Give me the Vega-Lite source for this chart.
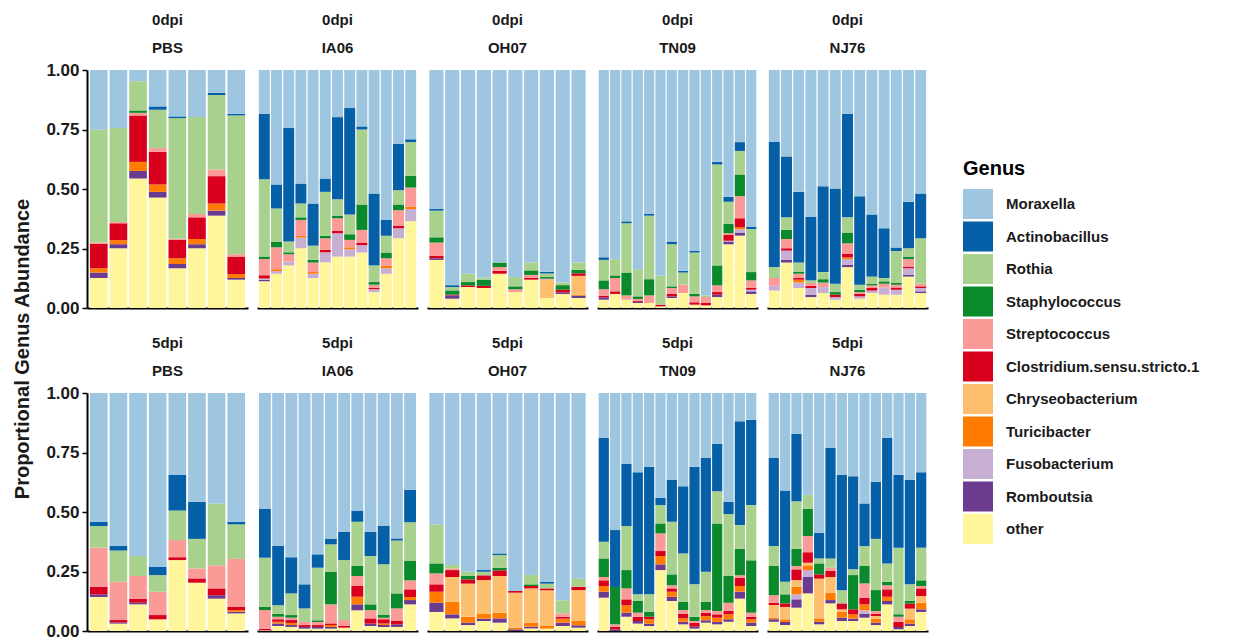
{
"$schema": "https://vega.github.io/schema/vega-lite/v6.json",
"background": "white",
"padding": {"left": 12, "top": 13, "right": 5, "bottom": 5},
"title": {"text": "Proportional Genus Abundance", "orient": "left", "anchor": "middle", "fontSize": 20, "fontWeight": "bold", "font": "Liberation Sans", "color": "#1a1a1a", "offset": 13, "dx": -23},
"data": {"values": [
{"panel":"0dpi|PBS","sample":1,"other":0.126,"Romboutsia":0.023,"Turicibacter":0.018,"Clostridium.sensu.stricto.1":0.102,"Streptococcus":0.006,"Rothia":0.474,"Moraxella":0.251},
{"panel":"0dpi|PBS","sample":2,"other":0.251,"Romboutsia":0.017,"Turicibacter":0.017,"Clostridium.sensu.stricto.1":0.071,"Streptococcus":0.005,"Rothia":0.395,"Moraxella":0.244},
{"panel":"0dpi|PBS","sample":3,"other":0.544,"Romboutsia":0.032,"Turicibacter":0.038,"Clostridium.sensu.stricto.1":0.195,"Streptococcus":0.011,"Staphylococcus":0.010,"Rothia":0.123,"Moraxella":0.047},
{"panel":"0dpi|PBS","sample":4,"other":0.464,"Romboutsia":0.024,"Turicibacter":0.031,"Clostridium.sensu.stricto.1":0.137,"Streptococcus":0.016,"Rothia":0.161,"Actinobacillus":0.014,"Moraxella":0.153},
{"panel":"0dpi|PBS","sample":5,"other":0.167,"Romboutsia":0.018,"Turicibacter":0.024,"Clostridium.sensu.stricto.1":0.077,"Streptococcus":0.005,"Rothia":0.507,"Actinobacillus":0.007,"Moraxella":0.195},
{"panel":"0dpi|PBS","sample":6,"other":0.251,"Romboutsia":0.017,"Turicibacter":0.022,"Clostridium.sensu.stricto.1":0.091,"Streptococcus":0.014,"Rothia":0.407,"Moraxella":0.198},
{"panel":"0dpi|PBS","sample":7,"other":0.388,"Romboutsia":0.021,"Turicibacter":0.030,"Clostridium.sensu.stricto.1":0.115,"Streptococcus":0.028,"Rothia":0.313,"Actinobacillus":0.009,"Moraxella":0.096},
{"panel":"0dpi|PBS","sample":8,"other":0.119,"Romboutsia":0.007,"Turicibacter":0.016,"Clostridium.sensu.stricto.1":0.074,"Streptococcus":0.010,"Rothia":0.583,"Actinobacillus":0.007,"Moraxella":0.184},

{"panel":"0dpi|IA06","sample":1,"other":0.112,"Romboutsia":0.007,"Fusobacterium":0.005,"Clostridium.sensu.stricto.1":0.014,"Streptococcus":0.068,"Staphylococcus":0.010,"Rothia":0.325,"Actinobacillus":0.275,"Moraxella":0.184},
{"panel":"0dpi|IA06","sample":2,"other":0.144,"Fusobacterium":0.011,"Turicibacter":0.008,"Streptococcus":0.092,"Staphylococcus":0.024,"Rothia":0.139,"Actinobacillus":0.101,"Moraxella":0.481},
{"panel":"0dpi|IA06","sample":3,"other":0.179,"Fusobacterium":0.016,"Streptococcus":0.031,"Staphylococcus":0.008,"Rothia":0.045,"Actinobacillus":0.477,"Moraxella":0.244},
{"panel":"0dpi|IA06","sample":4,"other":0.251,"Fusobacterium":0.045,"Turicibacter":0.007,"Streptococcus":0.067,"Staphylococcus":0.011,"Rothia":0.058,"Actinobacillus":0.084,"Moraxella":0.477},
{"panel":"0dpi|IA06","sample":5,"other":0.126,"Fusobacterium":0.018,"Turicibacter":0.007,"Streptococcus":0.040,"Staphylococcus":0.011,"Rothia":0.060,"Actinobacillus":0.177,"Moraxella":0.561},
{"panel":"0dpi|IA06","sample":6,"other":0.192,"Fusobacterium":0.042,"Clostridium.sensu.stricto.1":0.010,"Streptococcus":0.049,"Staphylococcus":0.011,"Rothia":0.184,"Actinobacillus":0.056,"Moraxella":0.456},
{"panel":"0dpi|IA06","sample":7,"other":0.216,"Fusobacterium":0.098,"Clostridium.sensu.stricto.1":0.010,"Streptococcus":0.053,"Staphylococcus":0.011,"Rothia":0.069,"Actinobacillus":0.345,"Moraxella":0.198},
{"panel":"0dpi|IA06","sample":8,"other":0.216,"Fusobacterium":0.031,"Turicibacter":0.008,"Streptococcus":0.031,"Staphylococcus":0.024,"Rothia":0.083,"Actinobacillus":0.447,"Moraxella":0.160},
{"panel":"0dpi|IA06","sample":9,"other":0.233,"Fusobacterium":0.031,"Clostridium.sensu.stricto.1":0.011,"Streptococcus":0.053,"Staphylococcus":0.107,"Rothia":0.315,"Actinobacillus":0.013,"Moraxella":0.237},
{"panel":"0dpi|IA06","sample":10,"other":0.067,"Fusobacterium":0.012,"Clostridium.sensu.stricto.1":0.005,"Streptococcus":0.014,"Staphylococcus":0.011,"Rothia":0.070,"Actinobacillus":0.302,"Moraxella":0.519},
{"panel":"0dpi|IA06","sample":11,"other":0.144,"Fusobacterium":0.023,"Turicibacter":0.010,"Streptococcus":0.032,"Staphylococcus":0.024,"Rothia":0.071,"Actinobacillus":0.066,"Moraxella":0.630},
{"panel":"0dpi|IA06","sample":12,"other":0.293,"Fusobacterium":0.042,"Clostridium.sensu.stricto.1":0.011,"Streptococcus":0.065,"Staphylococcus":0.024,"Rothia":0.060,"Actinobacillus":0.195,"Moraxella":0.310},
{"panel":"0dpi|IA06","sample":13,"other":0.365,"Fusobacterium":0.051,"Turicibacter":0.009,"Streptococcus":0.081,"Staphylococcus":0.049,"Rothia":0.142,"Actinobacillus":0.012,"Moraxella":0.291},

{"panel":"0dpi|OH07","sample":1,"other":0.202,"Romboutsia":0.007,"Clostridium.sensu.stricto.1":0.011,"Streptococcus":0.055,"Staphylococcus":0.022,"Rothia":0.112,"Actinobacillus":0.008,"Moraxella":0.583},
{"panel":"0dpi|OH07","sample":2,"other":0.039,"Romboutsia":0.014,"Clostridium.sensu.stricto.1":0.003,"Staphylococcus":0.018,"Rothia":0.014,"Actinobacillus":0.008,"Moraxella":0.904},
{"panel":"0dpi|OH07","sample":3,"other":0.088,"Clostridium.sensu.stricto.1":0.007,"Staphylococcus":0.014,"Rothia":0.035,"Moraxella":0.856},
{"panel":"0dpi|OH07","sample":4,"other":0.084,"Clostridium.sensu.stricto.1":0.009,"Staphylococcus":0.026,"Rothia":0.009,"Moraxella":0.872},
{"panel":"0dpi|OH07","sample":5,"other":0.144,"Clostridium.sensu.stricto.1":0.012,"Streptococcus":0.016,"Staphylococcus":0.019,"Moraxella":0.809},
{"panel":"0dpi|OH07","sample":6,"other":0.067,"Streptococcus":0.012,"Staphylococcus":0.012,"Rothia":0.039,"Moraxella":0.870},
{"panel":"0dpi|OH07","sample":7,"other":0.119,"Clostridium.sensu.stricto.1":0.007,"Streptococcus":0.013,"Staphylococcus":0.019,"Rothia":0.033,"Moraxella":0.809},
{"panel":"0dpi|OH07","sample":8,"other":0.042,"Chryseobacterium":0.077,"Streptococcus":0.004,"Staphylococcus":0.007,"Rothia":0.015,"Actinobacillus":0.007,"Moraxella":0.848},
{"panel":"0dpi|OH07","sample":9,"other":0.059,"Romboutsia":0.007,"Clostridium.sensu.stricto.1":0.011,"Staphylococcus":0.019,"Rothia":0.011,"Moraxella":0.893},
{"panel":"0dpi|OH07","sample":10,"other":0.042,"Romboutsia":0.010,"Turicibacter":0.004,"Chryseobacterium":0.079,"Clostridium.sensu.stricto.1":0.011,"Staphylococcus":0.014,"Rothia":0.031,"Moraxella":0.809},

{"panel":"0dpi|TN09","sample":1,"other":0.035,"Romboutsia":0.010,"Clostridium.sensu.stricto.1":0.007,"Streptococcus":0.027,"Staphylococcus":0.037,"Rothia":0.086,"Actinobacillus":0.011,"Moraxella":0.787},
{"panel":"0dpi|TN09","sample":2,"other":0.059,"Clostridium.sensu.stricto.1":0.011,"Streptococcus":0.056,"Staphylococcus":0.011,"Rothia":0.068,"Moraxella":0.795},
{"panel":"0dpi|TN09","sample":3,"other":0.035,"Streptococcus":0.018,"Staphylococcus":0.096,"Rothia":0.207,"Actinobacillus":0.008,"Moraxella":0.636},
{"panel":"0dpi|TN09","sample":4,"other":0.021,"Romboutsia":0.005,"Clostridium.sensu.stricto.1":0.005,"Streptococcus":0.007,"Staphylococcus":0.011,"Rothia":0.114,"Moraxella":0.837},
{"panel":"0dpi|TN09","sample":5,"other":0.021,"Streptococcus":0.032,"Staphylococcus":0.068,"Rothia":0.267,"Actinobacillus":0.007,"Moraxella":0.605},
{"panel":"0dpi|TN09","sample":6,"other":0.007,"Clostridium.sensu.stricto.1":0.007,"Rothia":0.121,"Moraxella":0.865},
{"panel":"0dpi|TN09","sample":7,"other":0.042,"Romboutsia":0.007,"Clostridium.sensu.stricto.1":0.010,"Streptococcus":0.025,"Staphylococcus":0.007,"Rothia":0.177,"Actinobacillus":0.011,"Moraxella":0.721},
{"panel":"0dpi|TN09","sample":8,"other":0.063,"Streptococcus":0.035,"Rothia":0.051,"Actinobacillus":0.007,"Moraxella":0.844},
{"panel":"0dpi|TN09","sample":9,"other":0.014,"Clostridium.sensu.stricto.1":0.010,"Streptococcus":0.025,"Staphylococcus":0.011,"Rothia":0.173,"Actinobacillus":0.007,"Moraxella":0.760},
{"panel":"0dpi|TN09","sample":10,"other":0.011,"Clostridium.sensu.stricto.1":0.010,"Streptococcus":0.025,"Rothia":0.006,"Moraxella":0.948},
{"panel":"0dpi|TN09","sample":11,"other":0.046,"Romboutsia":0.010,"Clostridium.sensu.stricto.1":0.011,"Streptococcus":0.028,"Staphylococcus":0.084,"Rothia":0.424,"Actinobacillus":0.011,"Moraxella":0.386},
{"panel":"0dpi|TN09","sample":12,"other":0.268,"Romboutsia":0.011,"Fusobacterium":0.004,"Clostridium.sensu.stricto.1":0.024,"Streptococcus":0.007,"Staphylococcus":0.039,"Rothia":0.093,"Actinobacillus":0.021,"Moraxella":0.533},
{"panel":"0dpi|TN09","sample":13,"other":0.304,"Romboutsia":0.013,"Fusobacterium":0.014,"Turicibacter":0.008,"Clostridium.sensu.stricto.1":0.038,"Streptococcus":0.093,"Staphylococcus":0.091,"Rothia":0.099,"Actinobacillus":0.037,"Moraxella":0.303},
{"panel":"0dpi|TN09","sample":14,"other":0.059,"Romboutsia":0.011,"Fusobacterium":0.007,"Clostridium.sensu.stricto.1":0.007,"Streptococcus":0.032,"Staphylococcus":0.035,"Rothia":0.181,"Actinobacillus":0.010,"Moraxella":0.658},

{"panel":"0dpi|NJ76","sample":1,"other":0.074,"Fusobacterium":0.019,"Streptococcus":0.033,"Rothia":0.046,"Actinobacillus":0.525,"Moraxella":0.303},
{"panel":"0dpi|NJ76","sample":2,"other":0.191,"Romboutsia":0.011,"Fusobacterium":0.039,"Clostridium.sensu.stricto.1":0.010,"Streptococcus":0.039,"Staphylococcus":0.038,"Rothia":0.053,"Actinobacillus":0.256,"Moraxella":0.363},
{"panel":"0dpi|NJ76","sample":3,"other":0.084,"Fusobacterium":0.023,"Turicibacter":0.012,"Clostridium.sensu.stricto.1":0.007,"Streptococcus":0.018,"Staphylococcus":0.009,"Rothia":0.038,"Actinobacillus":0.297,"Moraxella":0.512},
{"panel":"0dpi|NJ76","sample":4,"other":0.046,"Romboutsia":0.010,"Fusobacterium":0.028,"Clostridium.sensu.stricto.1":0.009,"Streptococcus":0.012,"Rothia":0.011,"Actinobacillus":0.268,"Moraxella":0.616},
{"panel":"0dpi|NJ76","sample":5,"other":0.063,"Fusobacterium":0.025,"Streptococcus":0.019,"Staphylococcus":0.014,"Rothia":0.030,"Actinobacillus":0.361,"Moraxella":0.488},
{"panel":"0dpi|NJ76","sample":6,"other":0.035,"Fusobacterium":0.011,"Clostridium.sensu.stricto.1":0.010,"Staphylococcus":0.011,"Rothia":0.035,"Actinobacillus":0.400,"Moraxella":0.498},
{"panel":"0dpi|NJ76","sample":7,"other":0.172,"Romboutsia":0.009,"Fusobacterium":0.025,"Turicibacter":0.007,"Clostridium.sensu.stricto.1":0.014,"Streptococcus":0.045,"Staphylococcus":0.045,"Rothia":0.064,"Actinobacillus":0.435,"Moraxella":0.184},
{"panel":"0dpi|NJ76","sample":8,"other":0.039,"Fusobacterium":0.010,"Clostridium.sensu.stricto.1":0.011,"Streptococcus":0.007,"Staphylococcus":0.010,"Rothia":0.021,"Actinobacillus":0.372,"Moraxella":0.530},
{"panel":"0dpi|NJ76","sample":9,"other":0.063,"Fusobacterium":0.010,"Clostridium.sensu.stricto.1":0.011,"Streptococcus":0.011,"Staphylococcus":0.007,"Rothia":0.030,"Actinobacillus":0.261,"Moraxella":0.607},
{"panel":"0dpi|NJ76","sample":10,"other":0.056,"Fusobacterium":0.030,"Streptococcus":0.016,"Staphylococcus":0.010,"Rothia":0.014,"Actinobacillus":0.209,"Moraxella":0.665},
{"panel":"0dpi|NJ76","sample":11,"other":0.056,"Fusobacterium":0.021,"Clostridium.sensu.stricto.1":0.009,"Streptococcus":0.012,"Staphylococcus":0.007,"Rothia":0.135,"Actinobacillus":0.014,"Moraxella":0.746},
{"panel":"0dpi|NJ76","sample":12,"other":0.132,"Romboutsia":0.007,"Fusobacterium":0.028,"Clostridium.sensu.stricto.1":0.007,"Streptococcus":0.032,"Staphylococcus":0.010,"Rothia":0.035,"Actinobacillus":0.195,"Moraxella":0.554},
{"panel":"0dpi|NJ76","sample":13,"other":0.063,"Romboutsia":0.007,"Fusobacterium":0.014,"Clostridium.sensu.stricto.1":0.007,"Streptococcus":0.011,"Rothia":0.191,"Actinobacillus":0.188,"Moraxella":0.519},

{"panel":"5dpi|PBS","sample":1,"other":0.143,"Romboutsia":0.011,"Clostridium.sensu.stricto.1":0.031,"Streptococcus":0.165,"Rothia":0.091,"Actinobacillus":0.018,"Moraxella":0.541},
{"panel":"5dpi|PBS","sample":2,"other":0.031,"Romboutsia":0.005,"Clostridium.sensu.stricto.1":0.010,"Streptococcus":0.161,"Rothia":0.131,"Actinobacillus":0.019,"Moraxella":0.643},
{"panel":"5dpi|PBS","sample":3,"other":0.112,"Romboutsia":0.007,"Clostridium.sensu.stricto.1":0.017,"Streptococcus":0.095,"Rothia":0.084,"Moraxella":0.685},
{"panel":"5dpi|PBS","sample":4,"other":0.049,"Clostridium.sensu.stricto.1":0.018,"Streptococcus":0.098,"Rothia":0.070,"Actinobacillus":0.034,"Moraxella":0.731},
{"panel":"5dpi|PBS","sample":5,"other":0.298,"Clostridium.sensu.stricto.1":0.012,"Streptococcus":0.072,"Rothia":0.124,"Actinobacillus":0.151,"Moraxella":0.343},
{"panel":"5dpi|PBS","sample":6,"other":0.203,"Clostridium.sensu.stricto.1":0.018,"Streptococcus":0.042,"Rothia":0.124,"Actinobacillus":0.156,"Moraxella":0.457},
{"panel":"5dpi|PBS","sample":7,"other":0.136,"Romboutsia":0.014,"Clostridium.sensu.stricto.1":0.029,"Streptococcus":0.097,"Rothia":0.260,"Moraxella":0.464},
{"panel":"5dpi|PBS","sample":8,"other":0.074,"Romboutsia":0.007,"Turicibacter":0.007,"Clostridium.sensu.stricto.1":0.013,"Streptococcus":0.202,"Rothia":0.145,"Actinobacillus":0.011,"Moraxella":0.541},

{"panel":"5dpi|IA06","sample":1,"other":0.003,"Clostridium.sensu.stricto.1":0.007,"Streptococcus":0.078,"Staphylococcus":0.013,"Rothia":0.207,"Actinobacillus":0.205,"Moraxella":0.487},
{"panel":"5dpi|IA06","sample":2,"other":0.021,"Romboutsia":0.010,"Turicibacter":0.008,"Clostridium.sensu.stricto.1":0.010,"Streptococcus":0.011,"Staphylococcus":0.013,"Rothia":0.035,"Actinobacillus":0.249,"Moraxella":0.643},
{"panel":"5dpi|IA06","sample":3,"other":0.017,"Romboutsia":0.008,"Turicibacter":0.009,"Clostridium.sensu.stricto.1":0.012,"Streptococcus":0.010,"Staphylococcus":0.011,"Rothia":0.091,"Actinobacillus":0.152,"Moraxella":0.690},
{"panel":"5dpi|IA06","sample":4,"other":0.010,"Romboutsia":0.007,"Clostridium.sensu.stricto.1":0.008,"Streptococcus":0.013,"Rothia":0.057,"Actinobacillus":0.101,"Moraxella":0.804},
{"panel":"5dpi|IA06","sample":5,"other":0.010,"Romboutsia":0.007,"Clostridium.sensu.stricto.1":0.008,"Streptococcus":0.013,"Staphylococcus":0.007,"Rothia":0.221,"Actinobacillus":0.056,"Moraxella":0.678},
{"panel":"5dpi|IA06","sample":6,"other":0.010,"Romboutsia":0.007,"Turicibacter":0.008,"Clostridium.sensu.stricto.1":0.007,"Streptococcus":0.080,"Staphylococcus":0.137,"Rothia":0.115,"Actinobacillus":0.023,"Moraxella":0.613},
{"panel":"5dpi|IA06","sample":7,"other":0.014,"Clostridium.sensu.stricto.1":0.007,"Streptococcus":0.025,"Rothia":0.252,"Actinobacillus":0.119,"Moraxella":0.583},
{"panel":"5dpi|IA06","sample":8,"other":0.087,"Romboutsia":0.025,"Turicibacter":0.032,"Clostridium.sensu.stricto.1":0.045,"Streptococcus":0.042,"Staphylococcus":0.042,"Rothia":0.186,"Actinobacillus":0.047,"Moraxella":0.494},
{"panel":"5dpi|IA06","sample":9,"other":0.021,"Romboutsia":0.010,"Clostridium.sensu.stricto.1":0.022,"Streptococcus":0.035,"Staphylococcus":0.024,"Rothia":0.203,"Actinobacillus":0.102,"Moraxella":0.583},
{"panel":"5dpi|IA06","sample":10,"other":0.017,"Romboutsia":0.008,"Turicibacter":0.007,"Clostridium.sensu.stricto.1":0.017,"Streptococcus":0.007,"Staphylococcus":0.011,"Rothia":0.213,"Actinobacillus":0.161,"Moraxella":0.559},
{"panel":"5dpi|IA06","sample":11,"other":0.017,"Romboutsia":0.011,"Clostridium.sensu.stricto.1":0.014,"Streptococcus":0.053,"Staphylococcus":0.063,"Rothia":0.222,"Actinobacillus":0.009,"Moraxella":0.611},
{"panel":"5dpi|IA06","sample":12,"other":0.112,"Romboutsia":0.018,"Turicibacter":0.013,"Clostridium.sensu.stricto.1":0.032,"Streptococcus":0.038,"Staphylococcus":0.081,"Rothia":0.163,"Actinobacillus":0.137,"Moraxella":0.406},

{"panel":"5dpi|OH07","sample":1,"other":0.080,"Romboutsia":0.039,"Turicibacter":0.046,"Clostridium.sensu.stricto.1":0.031,"Streptococcus":0.046,"Staphylococcus":0.042,"Rothia":0.164,"Moraxella":0.552},
{"panel":"5dpi|OH07","sample":2,"other":0.053,"Romboutsia":0.017,"Turicibacter":0.053,"Chryseobacterium":0.104,"Clostridium.sensu.stricto.1":0.029,"Streptococcus":0.007,"Rothia":0.014,"Moraxella":0.723},
{"panel":"5dpi|OH07","sample":3,"other":0.025,"Romboutsia":0.010,"Turicibacter":0.025,"Chryseobacterium":0.139,"Clostridium.sensu.stricto.1":0.018,"Staphylococcus":0.014,"Rothia":0.018,"Moraxella":0.751},
{"panel":"5dpi|OH07","sample":4,"other":0.042,"Romboutsia":0.010,"Turicibacter":0.021,"Chryseobacterium":0.141,"Clostridium.sensu.stricto.1":0.020,"Rothia":0.015,"Actinobacillus":0.007,"Moraxella":0.744},
{"panel":"5dpi|OH07","sample":5,"other":0.035,"Romboutsia":0.018,"Turicibacter":0.024,"Chryseobacterium":0.154,"Clostridium.sensu.stricto.1":0.024,"Staphylococcus":0.011,"Rothia":0.053,"Actinobacillus":0.007,"Moraxella":0.674},
{"panel":"5dpi|OH07","sample":6,"Romboutsia":0.007,"Turicibacter":0.007,"Chryseobacterium":0.147,"Clostridium.sensu.stricto.1":0.007,"Moraxella":0.832},
{"panel":"5dpi|OH07","sample":7,"other":0.011,"Romboutsia":0.007,"Turicibacter":0.017,"Chryseobacterium":0.144,"Clostridium.sensu.stricto.1":0.010,"Staphylococcus":0.007,"Rothia":0.039,"Moraxella":0.765},
{"panel":"5dpi|OH07","sample":8,"other":0.010,"Turicibacter":0.011,"Chryseobacterium":0.150,"Clostridium.sensu.stricto.1":0.008,"Rothia":0.020,"Actinobacillus":0.008,"Moraxella":0.793},
{"panel":"5dpi|OH07","sample":9,"other":0.021,"Romboutsia":0.014,"Turicibacter":0.017,"Clostridium.sensu.stricto.1":0.008,"Streptococcus":0.014,"Rothia":0.055,"Moraxella":0.871},
{"panel":"5dpi|OH07","sample":10,"other":0.014,"Romboutsia":0.010,"Turicibacter":0.018,"Chryseobacterium":0.130,"Clostridium.sensu.stricto.1":0.014,"Rothia":0.034,"Moraxella":0.780},

{"panel":"5dpi|TN09","sample":1,"other":0.140,"Romboutsia":0.025,"Turicibacter":0.024,"Clostridium.sensu.stricto.1":0.024,"Streptococcus":0.014,"Staphylococcus":0.078,"Rothia":0.070,"Actinobacillus":0.436,"Moraxella":0.189},
{"panel":"5dpi|TN09","sample":2,"Romboutsia":0.007,"Clostridium.sensu.stricto.1":0.010,"Streptococcus":0.011,"Staphylococcus":0.157,"Actinobacillus":0.239,"Moraxella":0.576},
{"panel":"5dpi|TN09","sample":3,"other":0.060,"Romboutsia":0.017,"Turicibacter":0.031,"Clostridium.sensu.stricto.1":0.025,"Streptococcus":0.046,"Staphylococcus":0.077,"Rothia":0.185,"Actinobacillus":0.262,"Moraxella":0.297},
{"panel":"5dpi|TN09","sample":4,"other":0.031,"Romboutsia":0.011,"Clostridium.sensu.stricto.1":0.018,"Streptococcus":0.017,"Staphylococcus":0.049,"Rothia":0.028,"Actinobacillus":0.513,"Moraxella":0.333},
{"panel":"5dpi|TN09","sample":5,"other":0.021,"Romboutsia":0.010,"Turicibacter":0.018,"Clostridium.sensu.stricto.1":0.011,"Staphylococcus":0.021,"Rothia":0.073,"Actinobacillus":0.536,"Moraxella":0.310},
{"panel":"5dpi|TN09","sample":6,"other":0.256,"Romboutsia":0.024,"Turicibacter":0.035,"Clostridium.sensu.stricto.1":0.021,"Streptococcus":0.074,"Staphylococcus":0.042,"Rothia":0.077,"Actinobacillus":0.030,"Moraxella":0.441},
{"panel":"5dpi|TN09","sample":7,"other":0.126,"Romboutsia":0.018,"Turicibacter":0.021,"Clostridium.sensu.stricto.1":0.014,"Streptococcus":0.013,"Staphylococcus":0.046,"Rothia":0.221,"Actinobacillus":0.177,"Moraxella":0.364},
{"panel":"5dpi|TN09","sample":8,"other":0.028,"Romboutsia":0.011,"Turicibacter":0.014,"Clostridium.sensu.stricto.1":0.020,"Streptococcus":0.015,"Staphylococcus":0.035,"Rothia":0.203,"Actinobacillus":0.282,"Moraxella":0.392},
{"panel":"5dpi|TN09","sample":9,"other":0.010,"Romboutsia":0.008,"Clostridium.sensu.stricto.1":0.017,"Streptococcus":0.007,"Staphylococcus":0.018,"Rothia":0.136,"Actinobacillus":0.494,"Moraxella":0.310},
{"panel":"5dpi|TN09","sample":10,"other":0.035,"Romboutsia":0.010,"Turicibacter":0.018,"Clostridium.sensu.stricto.1":0.014,"Streptococcus":0.011,"Staphylococcus":0.035,"Rothia":0.126,"Actinobacillus":0.478,"Moraxella":0.273},
{"panel":"5dpi|TN09","sample":11,"other":0.028,"Romboutsia":0.010,"Turicibacter":0.018,"Clostridium.sensu.stricto.1":0.014,"Streptococcus":0.014,"Staphylococcus":0.368,"Rothia":0.135,"Actinobacillus":0.199,"Moraxella":0.214},
{"panel":"5dpi|TN09","sample":12,"other":0.039,"Romboutsia":0.010,"Turicibacter":0.021,"Clostridium.sensu.stricto.1":0.014,"Streptococcus":0.035,"Staphylococcus":0.112,"Rothia":0.261,"Actinobacillus":0.051,"Moraxella":0.457},
{"panel":"5dpi|TN09","sample":13,"other":0.136,"Romboutsia":0.029,"Turicibacter":0.024,"Clostridium.sensu.stricto.1":0.035,"Streptococcus":0.010,"Staphylococcus":0.111,"Rothia":0.100,"Actinobacillus":0.436,"Moraxella":0.119},
{"panel":"5dpi|TN09","sample":14,"other":0.021,"Romboutsia":0.014,"Turicibacter":0.014,"Clostridium.sensu.stricto.1":0.011,"Streptococcus":0.017,"Staphylococcus":0.220,"Rothia":0.232,"Actinobacillus":0.359,"Moraxella":0.112},

{"panel":"5dpi|NJ76","sample":1,"other":0.039,"Romboutsia":0.010,"Turicibacter":0.007,"Chryseobacterium":0.053,"Clostridium.sensu.stricto.1":0.010,"Streptococcus":0.031,"Staphylococcus":0.123,"Rothia":0.084,"Actinobacillus":0.370,"Moraxella":0.273},
{"panel":"5dpi|NJ76","sample":2,"other":0.025,"Romboutsia":0.013,"Turicibacter":0.011,"Chryseobacterium":0.052,"Clostridium.sensu.stricto.1":0.015,"Staphylococcus":0.038,"Rothia":0.053,"Actinobacillus":0.383,"Moraxella":0.410},
{"panel":"5dpi|NJ76","sample":3,"other":0.098,"Romboutsia":0.035,"Fusobacterium":0.021,"Turicibacter":0.032,"Chryseobacterium":0.028,"Clostridium.sensu.stricto.1":0.045,"Streptococcus":0.014,"Staphylococcus":0.072,"Rothia":0.200,"Actinobacillus":0.283,"Moraxella":0.172},
{"panel":"5dpi|NJ76","sample":4,"other":0.158,"Romboutsia":0.069,"Fusobacterium":0.029,"Turicibacter":0.020,"Chryseobacterium":0.011,"Clostridium.sensu.stricto.1":0.044,"Streptococcus":0.068,"Staphylococcus":0.114,"Rothia":0.060,"Moraxella":0.427},
{"panel":"5dpi|NJ76","sample":5,"other":0.028,"Romboutsia":0.011,"Turicibacter":0.014,"Chryseobacterium":0.167,"Clostridium.sensu.stricto.1":0.018,"Staphylococcus":0.046,"Rothia":0.021,"Actinobacillus":0.108,"Moraxella":0.587},
{"panel":"5dpi|NJ76","sample":6,"other":0.116,"Romboutsia":0.014,"Turicibacter":0.031,"Chryseobacterium":0.066,"Clostridium.sensu.stricto.1":0.025,"Streptococcus":0.014,"Rothia":0.039,"Actinobacillus":0.464,"Moraxella":0.231},
{"panel":"5dpi|NJ76","sample":7,"other":0.042,"Romboutsia":0.014,"Turicibacter":0.024,"Chryseobacterium":0.011,"Clostridium.sensu.stricto.1":0.025,"Rothia":0.055,"Actinobacillus":0.486,"Moraxella":0.343},
{"panel":"5dpi|NJ76","sample":8,"other":0.042,"Romboutsia":0.010,"Turicibacter":0.018,"Clostridium.sensu.stricto.1":0.021,"Staphylococcus":0.144,"Rothia":0.024,"Actinobacillus":0.391,"Moraxella":0.350},
{"panel":"5dpi|NJ76","sample":9,"other":0.056,"Romboutsia":0.017,"Fusobacterium":0.014,"Turicibacter":0.025,"Clostridium.sensu.stricto.1":0.028,"Streptococcus":0.060,"Staphylococcus":0.073,"Rothia":0.084,"Actinobacillus":0.179,"Moraxella":0.464},
{"panel":"5dpi|NJ76","sample":10,"other":0.025,"Romboutsia":0.010,"Turicibacter":0.017,"Chryseobacterium":0.011,"Clostridium.sensu.stricto.1":0.010,"Streptococcus":0.011,"Staphylococcus":0.088,"Rothia":0.215,"Actinobacillus":0.240,"Moraxella":0.373},
{"panel":"5dpi|NJ76","sample":11,"other":0.112,"Romboutsia":0.014,"Turicibacter":0.018,"Clostridium.sensu.stricto.1":0.031,"Streptococcus":0.017,"Staphylococcus":0.015,"Rothia":0.077,"Actinobacillus":0.527,"Moraxella":0.189},
{"panel":"5dpi|NJ76","sample":12,"other":0.007,"Romboutsia":0.010,"Clostridium.sensu.stricto.1":0.022,"Streptococcus":0.021,"Staphylococcus":0.010,"Rothia":0.280,"Actinobacillus":0.307,"Moraxella":0.343},
{"panel":"5dpi|NJ76","sample":13,"other":0.021,"Romboutsia":0.010,"Turicibacter":0.018,"Chryseobacterium":0.045,"Clostridium.sensu.stricto.1":0.021,"Staphylococcus":0.011,"Rothia":0.070,"Actinobacillus":0.440,"Moraxella":0.364},
{"panel":"5dpi|NJ76","sample":14,"other":0.080,"Romboutsia":0.011,"Turicibacter":0.028,"Chryseobacterium":0.028,"Clostridium.sensu.stricto.1":0.032,"Streptococcus":0.010,"Staphylococcus":0.024,"Rothia":0.137,"Actinobacillus":0.317,"Moraxella":0.333}
]},
"transform": [
 {"fold": ["other","Romboutsia","Fusobacterium","Turicibacter","Chryseobacterium","Clostridium\\.sensu\\.stricto\\.1","Streptococcus","Staphylococcus","Rothia","Actinobacillus","Moraxella"], "as": ["genus","value"]},
 {"filter": "isValid(datum.value)"},
 {"lookup": "genus", "from": {"data": {"values": [
   {"genus":"other","rank":1},{"genus":"Romboutsia","rank":2},{"genus":"Fusobacterium","rank":3},{"genus":"Turicibacter","rank":4},{"genus":"Chryseobacterium","rank":5},{"genus":"Clostridium.sensu.stricto.1","rank":6},{"genus":"Streptococcus","rank":7},{"genus":"Staphylococcus","rank":8},{"genus":"Rothia","rank":9},{"genus":"Actinobacillus","rank":10},{"genus":"Moraxella","rank":11}
 ]}, "key": "genus", "fields": ["rank"]}}
],
"facet": {"field": "panel", "type": "nominal",
  "sort": ["0dpi|PBS","0dpi|IA06","0dpi|OH07","0dpi|TN09","0dpi|NJ76","5dpi|PBS","5dpi|IA06","5dpi|OH07","5dpi|TN09","5dpi|NJ76"],
  "header": {"title": null, "labelExpr": "split(datum.value, '|')", "labelFontSize": 15, "labelFontWeight": "bold", "labelFont": "Liberation Sans", "labelLineHeight": 28, "labelPadding": 14, "labelColor": "#1a1a1a"}},
"columns": 5,
"spacing": {"row": 28, "column": 9},
"spec": {
  "width": 161,
  "height": 238,
  "mark": {"type": "bar", "clip": true},
  "encoding": {
    "x": {"field": "sample", "type": "ordinal", "scale": {"paddingInner": 0.1, "paddingOuter": 0.15},
      "axis": {"title": null, "labels": false, "ticks": false, "domainColor": "black", "domainWidth": 2}},
    "y": {"field": "value", "type": "quantitative", "stack": "zero", "scale": {"domain": [0, 1], "nice": false},
      "axis": {"title": null, "values": [0, 0.25, 0.5, 0.75, 1], "format": ".2f", "grid": false, "labelFontSize": 17, "labelFontWeight": "bold", "labelColor": "#1a1a1a", "labelFont": "Liberation Sans", "tickColor": "black", "tickSize": 5, "tickWidth": 1.5, "domainColor": "black", "domainWidth": 2, "labelPadding": 3}},
    "color": {"field": "genus", "type": "nominal",
      "scale": {"domain": ["Moraxella","Actinobacillus","Rothia","Staphylococcus","Streptococcus","Clostridium.sensu.stricto.1","Chryseobacterium","Turicibacter","Fusobacterium","Romboutsia","other"],
        "range": ["#9ec6e0","#0560a8","#a9d18e","#0b8a2c","#fa9b98","#d8001d","#fdbe6d","#ff7c00","#c7aed3","#6a3b8f","#fff59b"]},
      "legend": {"title": "Genus", "orient": "none", "legendX": 876, "legendY": 89, "titleFontSize": 20, "titleFontWeight": "bold", "titleColor": "black", "titleFont": "Liberation Sans", "titlePadding": 10, "labelFontSize": 15, "labelFontWeight": "bold", "labelColor": "#1a1a1a", "labelFont": "Liberation Sans", "labelOffset": 13, "labelLimit": 0, "symbolType": "square", "symbolSize": 900, "symbolStrokeWidth": 0, "symbolOpacity": 1, "rowPadding": 2.5}},
    "order": {"field": "rank", "type": "quantitative", "sort": "ascending"}
  }
},
"resolve": {"scale": {"x": "independent"}},
"config": {"view": {"stroke": null}, "font": "Liberation Sans"}
}
